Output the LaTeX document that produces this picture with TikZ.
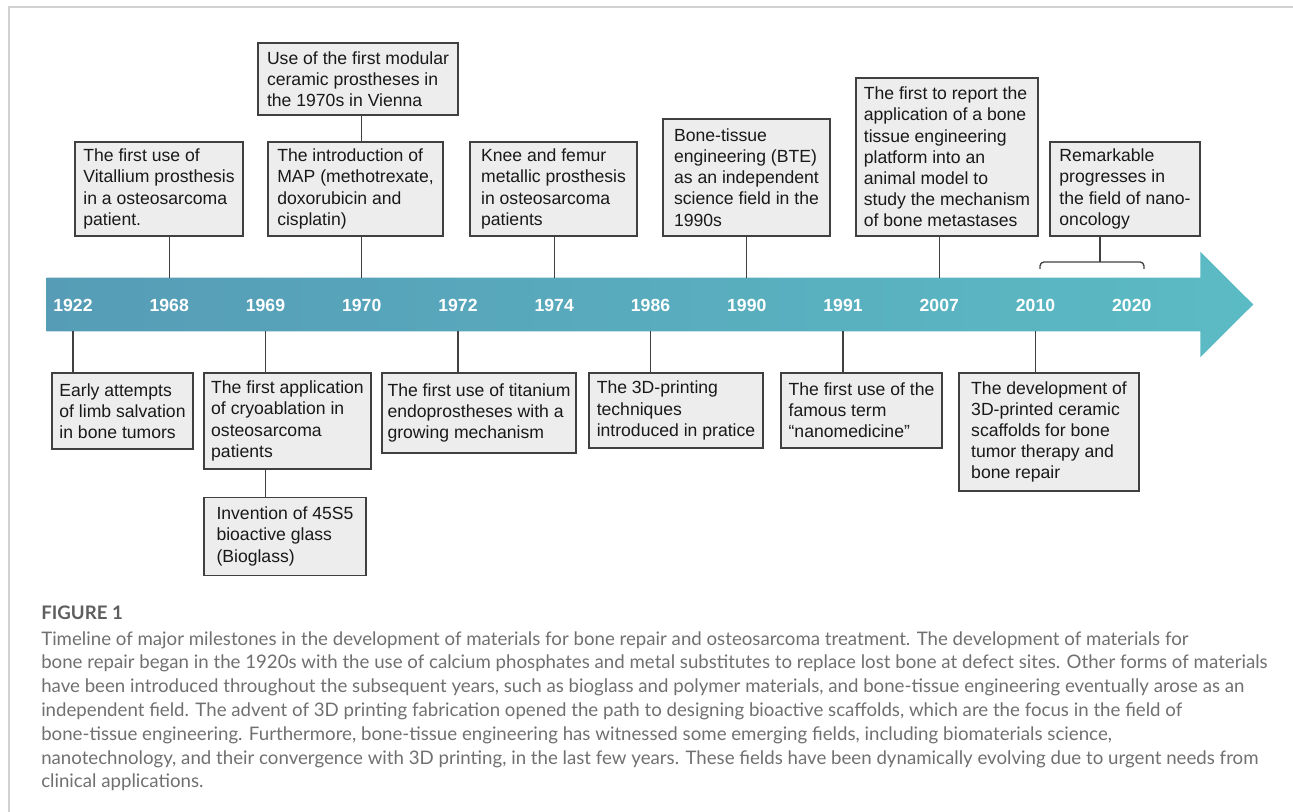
\documentclass[tikz,border=0pt]{standalone}
\usepackage{fontspec}
\setmainfont{Liberation Sans}
\newfontfamily\capfont{Lato}
\usepackage{tikz}
\usetikzlibrary{positioning}

\definecolor{boxfill}{RGB}{237,237,237}
\definecolor{boxline}{RGB}{64,64,64}
\definecolor{arrowL}{RGB}{86,156,182}
\definecolor{arrowR}{RGB}{91,187,196}
\definecolor{framegray}{RGB}{210,210,210}
\definecolor{capgray}{RGB}{112,112,112}
\definecolor{labgray}{RGB}{95,95,95}

\newdimen\pxu
\pxu=0.75pt

\tikzset{
    event/.style={draw=boxline, fill=boxfill, line width=1pt, align=left, inner sep=0pt,
        text=black!90, font=\fontsize{13.2}{15.9}\selectfont},
    year/.style={text=white, inner sep=0pt, font=\fontsize{13.2}{15.9}\selectfont\bfseries},
    link/.style={draw=boxline, line width=1pt}
}

\begin{document}
\begin{tikzpicture}[x=\pxu, y=-\pxu]
    \useasboundingbox (0,0) rectangle (1293,812);
    \draw[framegray, line width=1.5\pxu] (9,812) -- (9,7) -- (1293,7);

    % timeline arrow
    \node[minimum width=1153\pxu, minimum height=53\pxu, inner sep=0pt] (bar) at (623.5,304.5) {};
    \shade[left color=arrowL, right color=arrowR]
        (bar.north west) -- (bar.north east) -- ([yshift=26\pxu]bar.north east)
        -- ([xshift=53\pxu]bar.east) -- ([yshift=-26\pxu]bar.south east)
        -- (bar.south east) -- (bar.south west) -- cycle;
    \foreach \yr [count=\i from 0] in {1922,1968,1969,1970,1972,1974,1986,1990,1991,2007,2010,2020}
        \node[year] (y\yr) at ({73+96.25*\i},305) {\yr};

    % above the arrow
    \node[event, minimum width=200\pxu, minimum height=72\pxu] (modular) at (358,79)
        {Use of the first modular\\ceramic prostheses in\\the 1970s in Vienna};
    \node[event, minimum width=168\pxu, minimum height=94\pxu] (vitallium) at (159,189)
        {The first use of\\Vitallium prosthesis\\in a osteosarcoma\\patient.};
    \node[event, minimum width=175\pxu, minimum height=94\pxu] (map) at (355.5,189)
        {The introduction of\\MAP (methotrexate,\\doxorubicin and\\cisplatin)};
    \node[event, minimum width=167\pxu, minimum height=94\pxu] (knee) at (553.5,189)
        {Knee and femur\\metallic prosthesis\\in osteosarcoma\\patients};
    \node[event, minimum width=167\pxu, minimum height=117\pxu] (bte) at (746.5,177.5)
        {Bone-tissue\\engineering (BTE)\\as an independent\\science field in the\\1990s};
    \node[event, minimum width=182\pxu, minimum height=158\pxu] (platform) at (947,157)
        {The first to report the\\application of a bone\\tissue engineering\\platform into an\\animal model to\\study the mechanism\\of bone metastases};
    \node[event, minimum width=150\pxu, minimum height=94\pxu] (nano) at (1125,189)
        {Remarkable\\progresses in\\the field of nano-\\oncology};

    % below the arrow
    \node[event, minimum width=141\pxu, minimum height=76\pxu] (salvage) at (122.5,411)
        {Early attempts\\of limb salvation\\in bone tumors};
    \node[event, minimum width=167\pxu, minimum height=96\pxu] (cryo) at (287.5,421)
        {The first application\\of cryoablation in\\osteosarcoma\\patients};
    \node[event, minimum width=162\pxu, minimum height=78\pxu, below=27\pxu of cryo.south west, anchor=north west] (bioglass)
        {Invention of 45S5\\bioactive glass\\(Bioglass)};
    \node[event, minimum width=194\pxu, minimum height=80\pxu] (titanium) at (479,413)
        {The first use of titanium\\endoprostheses with a\\growing mechanism};
    \node[event, minimum width=174\pxu, minimum height=75\pxu] (printing) at (676,410.5)
        {The 3D-printing\\techniques\\introduced in pratice};
    \node[event, minimum width=161\pxu, minimum height=75\pxu] (term) at (861.5,410.5)
        {The first use of the\\famous term\\“nanomedicine”};
    \node[event, minimum width=180\pxu, minimum height=118\pxu] (scaffold) at (1049,432)
        {The development of\\3D-printed ceramic\\scaffolds for bone\\tumor therapy and\\bone repair};

    % connectors
    \draw[link] (modular.south -| y1970) -- (map.north -| y1970);
    \draw[link] (vitallium.south -| y1968) -- (bar.north -| y1968);
    \draw[link] (map.south -| y1970) -- (bar.north -| y1970);
    \draw[link] (knee.south -| y1974) -- (bar.north -| y1974);
    \draw[link] (bte.south -| y1990) -- (bar.north -| y1990);
    \draw[link] (platform.south -| y2007) -- (bar.north -| y2007);
    \coordinate (braceL) at (1040,269);
    \coordinate (braceR) at (1144,269);
    \coordinate (braceM) at (1100,262);
    \draw[link, rounded corners=4\pxu] (braceL) |- (braceM) -| (braceR);
    \draw[link] (nano.south -| braceM) -- (braceM);
    \draw[link] (bar.south -| y1922) -- (salvage.north -| y1922);
    \draw[link] (bar.south -| y1969) -- (cryo.north -| y1969);
    \draw[link] (cryo.south -| y1969) -- (bioglass.north -| y1969);
    \draw[link] (bar.south -| y1972) -- (titanium.north -| y1972);
    \draw[link] (bar.south -| y1986) -- (printing.north -| y1986);
    \draw[link] (bar.south -| y1991) -- (term.north -| y1991);
    \draw[link] (bar.south -| y2010) -- (scaffold.north -| y2010);

    % caption
    \node[anchor=base west, inner sep=0pt, text=labgray, font=\capfont\bfseries\fontsize{14}{16}\selectfont] (figlabel) at (41,619) {FIGURE 1};
    \node[anchor=north west, inner sep=0pt, align=left, text=capgray, font=\capfont\fontsize{14}{17.85}\selectfont] (caption) at (41,631)
        {Timeline of major milestones in the development of materials for bone repair and osteosarcoma treatment. The development of materials for\\
        bone repair began in the 1920s with the use of calcium phosphates and metal substitutes to replace lost bone at defect sites. Other forms of materials\\
        have been introduced throughout the subsequent years, such as bioglass and polymer materials, and bone-tissue engineering eventually arose as an\\
        independent field. The advent of 3D printing fabrication opened the path to designing bioactive scaffolds, which are the focus in the field of\\
        bone-tissue engineering. Furthermore, bone-tissue engineering has witnessed some emerging fields, including biomaterials science,\\
        nanotechnology, and their convergence with 3D printing, in the last few years. These fields have been dynamically evolving due to urgent needs from\\
        clinical applications.};
\end{tikzpicture}
\end{document}
